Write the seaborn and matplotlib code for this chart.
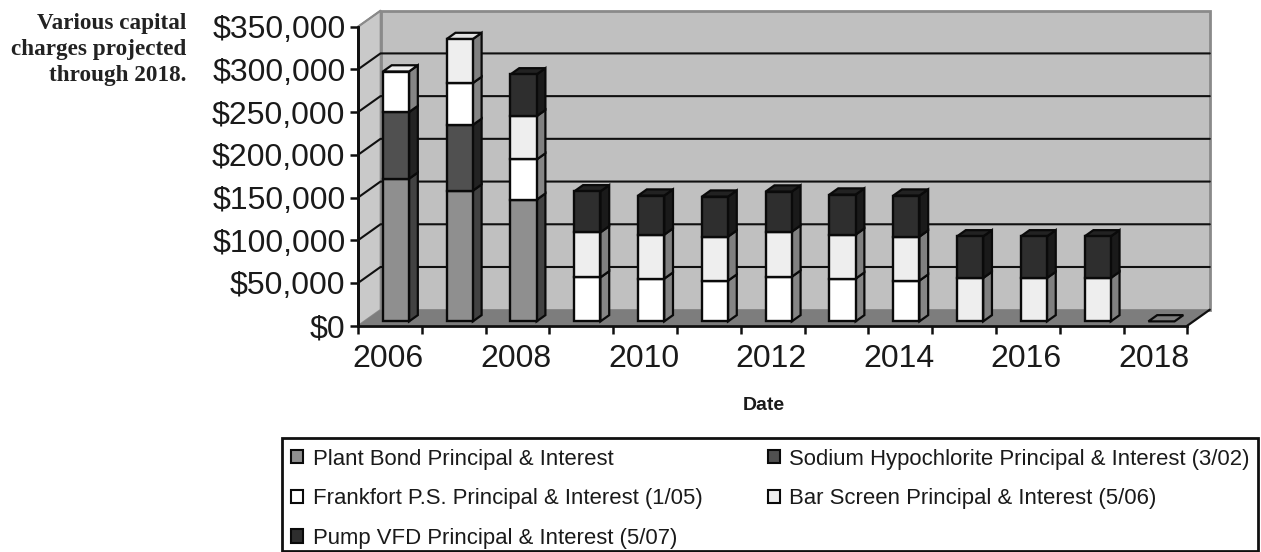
import matplotlib
matplotlib.use("Agg")
import matplotlib.pyplot as plt
from matplotlib.patches import Patch, Rectangle
from matplotlib.ticker import FuncFormatter
from matplotlib.transforms import ScaledTranslation
import numpy as np
import pandas as pd
import seaborn as sns

years = list(range(2006, 2019))
plant_bond = [167000, 153000, 142500, 0, 0, 0, 0, 0, 0, 0, 0, 0, 0]
sodium = [78000, 77000, 0, 0, 0, 0, 0, 0, 0, 0, 0, 0, 0]
frankfort = [47500, 49000, 47000, 51500, 50000, 47700, 52300, 50000, 47700, 0, 0, 0, 0]
bar_screen = [0, 51500, 50700, 52700, 51500, 51500, 52700, 51500, 51500, 50800, 50800, 50800, 0]
pump_vfd = [0, 0, 48900, 48000, 45700, 46800, 46900, 46900, 48000, 48700, 48700, 48700, 0]

series_names = [
    "Plant Bond Principal & Interest",
    "Sodium Hypochlorite Principal & Interest (3/02)",
    "Frankfort P.S. Principal & Interest (1/05)",
    "Bar Screen Principal & Interest (5/06)",
    "Pump VFD Principal & Interest (5/07)",
]
series_values = [plant_bond, sodium, frankfort, bar_screen, pump_vfd]
front_colors = ["#8f8f8f", "#505050", "#ffffff", "#eeeeee", "#2e2e2e"]
side_colors = ["#424242", "#232323", "#858585", "#808080", "#1a1a1a"]
top_colors = ["#8f8f8f", "#3a3a3a", "#eeeeee", "#e2e2e2", "#222222"]

y_ticks = list(range(0, 350001, 50000))
x_tick_years = list(range(2006, 2019, 2))

sns.set_theme(style="white")
plt.rcParams["font.family"] = ["Liberation Sans", "DejaVu Sans"]

W, H = 1261, 552
fig = plt.figure(figsize=(W / 100, H / 100), dpi=100, facecolor="white")
left, right, top, bottom = 358.0, 1187.3, 26.7, 325.7
ax = fig.add_axes([left / W, 1 - bottom / H, (right - left) / W, (bottom - top) / H])
ax.set_xlim(2005.5, 2018.5)
ax.set_ylim(0, 350000)
ax.patch.set_alpha(0)

# Oblique projection of the depth axis, in data units.
unit_x = (right - left) / 13
unit_y = (bottom - top) / 350000
depth_x = 22.5 / unit_x
depth_y = 16.0 / unit_y


def project(x, y, depth):
    return x + depth * depth_x, y + depth * depth_y


def poly(corners, **kw):
    pts = [project(*c) for c in corners]
    ax.fill([p[0] for p in pts], [p[1] for p in pts], clip_on=False, **kw)


x0, x1, ymax = 2005.5, 2018.5, 350000
# Back wall, side wall and floor
poly([(x0, 0, 1), (x1, 0, 1), (x1, ymax, 1), (x0, ymax, 1)],
     facecolor="#c0c0c0", edgecolor="#8a8a8a", linewidth=2, zorder=0.5)
poly([(x0, 0, 0), (x0, 0, 1), (x0, ymax, 1), (x0, ymax, 0)],
     facecolor="#c9c9c9", edgecolor="#8a8a8a", linewidth=1.2, zorder=0.4)
poly([(x0, 0, 0), (x1, 0, 0), (x1, 0, 1), (x0, 0, 1)],
     facecolor="#7d7d7d", edgecolor="none", zorder=0.6)

# Gridlines run across the side wall and along the back wall
for value in y_ticks[1:-1]:
    pts = [project(x0, value, 0), project(x0, value, 1), project(x1, value, 1)]
    ax.plot([p[0] for p in pts], [p[1] for p in pts], color="#101010",
            linewidth=1.5, clip_on=False, zorder=0.8)
p_a, p_b = project(x0, ymax, 0), project(x0, ymax, 1)
ax.plot([p_a[0], p_b[0]], [p_a[1], p_b[1]], color="#8a8a8a", linewidth=1.5,
        clip_on=False, zorder=0.8)
p_a, p_b = project(x1, 0, 0), project(x1, 0, 1)
ax.plot([p_a[0], p_b[0]], [p_a[1], p_b[1]], color="#101010", linewidth=1.6,
        clip_on=False, zorder=1)
p_a, p_b = project(x0, 0, 0), project(x0, ymax, 0)
ax.plot([p_a[0], p_b[0]], [p_a[1], p_b[1]], color="#101010", linewidth=2,
        clip_on=False, zorder=1)

# Stacked columns: seaborn draws the faces, polygons add the depth
front_depth = 0.27
bar_depth = 0.39
bar_width = 0.41
offset_x, offset_y = project(0, 0, front_depth)
year_pos = np.array(years, dtype=float)
cumulative = np.zeros(len(years))
last_color = [None] * len(years)

for name, values, face, side, cap in zip(series_names, series_values, front_colors, side_colors, top_colors):
    values = np.array(values, dtype=float)
    mask = values > 0
    frame = pd.DataFrame({"year": year_pos[mask] + offset_x, "amount": values[mask]})
    sns.barplot(data=frame, x="year", y="amount", native_scale=True, width=bar_width,
                bottom=cumulative[mask] + offset_y, color=face, saturation=1,
                edgecolor="#0a0a0a", linewidth=1.7, errorbar=None, ax=ax,
                zorder=2, clip_on=False)
    for i in np.flatnonzero(mask):
        xa = year_pos[i] + bar_width / 2
        b, t = cumulative[i], cumulative[i] + values[i]
        d0, d1 = front_depth, front_depth + bar_depth
        poly([(xa, b, d0), (xa, t, d0), (xa, t, d1), (xa, b, d1)],
             facecolor=side, edgecolor="#0a0a0a", linewidth=1.6, zorder=1.9)
        last_color[i] = cap
    cumulative[mask] += values[mask]

for i, total in enumerate(cumulative):
    xa, xb = year_pos[i] - bar_width / 2, year_pos[i] + bar_width / 2
    d0, d1 = front_depth, front_depth + bar_depth
    poly([(xa, total, d0), (xb, total, d0), (xb, total, d1), (xa, total, d1)],
         facecolor=last_color[i] or "#7d7d7d", edgecolor="#0a0a0a", linewidth=1.6, zorder=1.9)

# Axes and ticks
ax.set_xlim(x0, x1)
ax.set_ylim(0, ymax)
ax.set_yticks(y_ticks)
ax.yaxis.set_major_formatter(FuncFormatter(lambda v, _: f"${v:,.0f}"))
ax.set_xticks(np.arange(x0, x1 + 0.5, 1))
ax.set_xticklabels([])
ax.set_xticks(x_tick_years, labels=[str(y) for y in x_tick_years], minor=True)
ax.tick_params(axis="y", which="major", left=True, length=6, width=1.8, color="#101010",
               labelsize=23, labelcolor="#1a1a1a", pad=3)
ax.tick_params(axis="x", which="major", bottom=True, length=6, width=1.8, color="#101010")
ax.tick_params(axis="x", which="minor", bottom=False, labelsize=23, labelcolor="#1a1a1a", pad=9)
nudge = ScaledTranslation(-1.5 / 100, 0, fig.dpi_scale_trans)
for label in ax.get_xticklabels(minor=True):
    label.set_transform(label.get_transform() + nudge)
for key in ("top", "right"):
    ax.spines[key].set_visible(False)
ax.spines["left"].set_linewidth(2)
ax.spines["left"].set_color("#101010")
ax.spines["bottom"].set_linewidth(2)
ax.spines["bottom"].set_color("#101010")
ax.set_xlabel("")
ax.set_ylabel("")
ax.grid(False)

fig.text(763.5 / W, 1 - 405.5 / H, "Date", ha="center", va="center", fontsize=14,
         fontweight="bold", color="#1a1a1a")

fig.text(186 / W, 1 - 49.5 / H, "Various capital\ncharges projected\nthrough 2018.",
         ha="right", va="center", multialignment="right", fontsize=16.7, fontweight="bold",
         family="Liberation Serif", color="#222222", linespacing=1.31)

# Legend box, with the entries filling it column by column
fig.add_artist(Rectangle((282 / W, 1 - 550.5 / H), (1258 - 282) / W, (550.5 - 438) / H,
                         transform=fig.transFigure, facecolor="white",
                         edgecolor="#101010", linewidth=2))
order = [0, 2, 4, 1, 3]
handles = [Patch(facecolor=front_colors[i], edgecolor="#0a0a0a", linewidth=1.5) for i in order]
labels = [series_names[i] for i in order]
legend = fig.legend(handles, labels, ncol=2, loc="upper left",
                    bbox_to_anchor=(283.5 / W, 1 - 441 / H), bbox_transform=fig.transFigure,
                    fontsize=15.9, frameon=False,
                    handlelength=0.56, handleheight=0.56, handletextpad=0.42,
                    columnspacing=2.95, labelspacing=0.84, borderpad=0.34, borderaxespad=0)
for text in legend.get_texts():
    text.set_color("#1a1a1a")

fig.savefig("out.png", dpi=100, facecolor="white")
